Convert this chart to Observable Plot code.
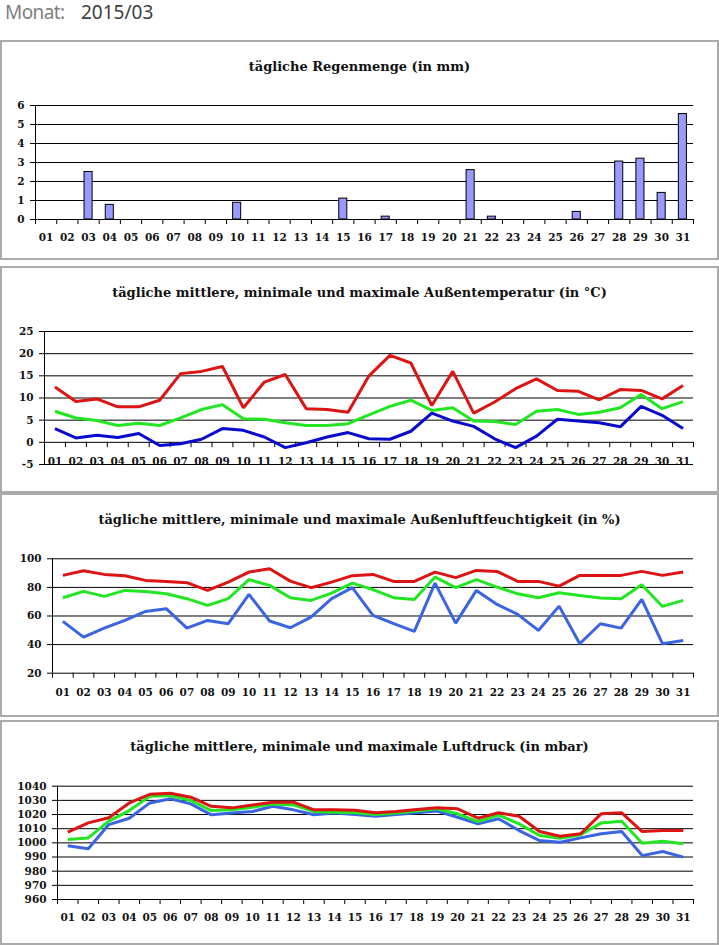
<!DOCTYPE html>
<html><head><meta charset="utf-8">
<script src="https://cdn.jsdelivr.net/npm/d3@7"></script>
<script src="https://cdn.jsdelivr.net/npm/@observablehq/plot@0.6"></script>
<style>
body{margin:0;background:#fff;width:719px;height:945px;position:relative;overflow:hidden}
.hdr{position:absolute;top:3px;font-family:"Noto Sans",sans-serif;font-size:19px;line-height:19px;white-space:nowrap}
.box{position:absolute;left:0;width:719px;box-sizing:border-box;border:2px solid #ababab}
.title{position:absolute;left:0;width:719px;text-align:center;font-family:"DejaVu Serif",serif;font-weight:bold;font-size:13px;line-height:13px;color:#111;white-space:nowrap}
.chart{position:absolute;left:0}
</style></head>
<body>
<div class="hdr" style="left:5px;color:#7f7f7f;letter-spacing:-0.6px">Monat:</div>
<div class="hdr" style="left:81px;color:#404040">2015/03</div>
<div id="root"></div>
<script>
// ---- data ----
const days = ["01","02","03","04","05","06","07","08","09","10","11","12","13","14","15","16","17","18","19","20","21","22","23","24","25","26","27","28","29","30","31"];
const rain = [0,0,2.5,0.77,0,0,0,0,0,0.88,0,0,0,0,1.1,0,0.15,0,0,0,2.6,0.15,0,0,0,0.4,0,3.05,3.2,1.4,5.55];
const tempMax  = [12.5,9.2,9.8,8.0,8.0,9.5,15.5,16.0,17.1,7.8,13.6,15.3,7.6,7.4,6.8,15.0,19.6,17.9,8.3,16.0,6.6,9.1,12.1,14.3,11.7,11.5,9.6,11.9,11.7,9.8,12.8];
const tempMean = [7.0,5.5,4.9,3.8,4.3,3.8,5.5,7.4,8.5,5.3,5.2,4.4,3.8,3.8,4.2,6.2,8.1,9.5,7.2,7.8,4.8,4.7,4.0,7.0,7.4,6.3,6.8,7.8,10.8,7.6,9.2];
const tempMin  = [3.1,1.0,1.6,1.1,2.0,-0.7,-0.3,0.7,3.1,2.7,1.2,-1.2,-0.1,1.2,2.2,0.8,0.7,2.5,6.6,4.8,3.6,0.8,-1.2,1.4,5.2,4.8,4.4,3.5,8.1,6.1,3.1];
const humMax  = [88.4,91.7,89.1,88.2,84.9,84.2,83.3,77.9,83.7,90.7,93.1,84.4,79.8,83.7,88.2,89.1,84.2,84.2,90.7,86.8,91.9,91.2,84.2,84.2,80.9,88.4,88.4,88.4,91.2,88.4,90.7];
const humMean = [72.8,77.2,73.7,77.9,77.2,75.5,72.1,67.4,72.1,85.4,81.4,72.8,70.9,76.0,83.0,78.4,72.8,71.6,87.2,79.8,85.4,80.2,75.5,72.8,76.3,74.4,72.6,72.1,81.9,66.7,70.9];
const humMin  = [56.2,45.2,51.5,56.9,63.2,65.1,51.5,56.9,54.6,75.1,56.5,51.8,59.2,72.1,79.8,60.4,54.6,49.2,83.0,55.0,77.9,68.1,61.1,49.9,66.9,40.6,54.6,51.5,71.6,40.6,42.9];
const presMax  = [1007.5,1014.1,1017.7,1028.2,1034.3,1035,1032.2,1025.8,1024.7,1026.8,1028.7,1028.7,1023.3,1023.3,1023,1021.2,1022.1,1023.5,1024.7,1024,1017.4,1021.2,1018.8,1008,1004.7,1006.4,1020.5,1021.2,1008,1008.7,1008.7];
const presMean = [1002.3,1003.5,1015.3,1022.8,1032.9,1033.4,1029.9,1022.8,1023.3,1025.1,1027.5,1026.8,1022.1,1021.6,1021.2,1020,1021,1022.4,1024,1020.5,1015,1019.6,1013.4,1005.2,1003.3,1005.7,1014.1,1015.3,999.7,1001.1,999.3];
const presMin  = [997.9,995.8,1012.9,1017.4,1028.2,1031.1,1027.5,1019.8,1021,1022.1,1025.8,1023.3,1019.8,1021,1020,1018.8,1020,1021.2,1022.4,1018.1,1013.4,1017,1008.7,1001.6,1000.4,1003.5,1006.4,1008,991,993.9,989.9];
const rainTicks = [0,1,2,3,4,5,6];
const tempTicks = [-5,0,5,10,15,20,25];
const humTicks = [20,40,60,80,100];
const presTicks = [960,970,980,990,1000,1010,1020,1030,1040];
const titles = [
  "tägliche Regenmenge (in mm)",
  "tägliche mittlere, minimale und maximale Außentemperatur (in °C)",
  "tägliche mittlere, minimale und maximale Außenluftfeuchtigkeit (in %)",
  "tägliche mittlere, minimale und maximale Luftdruck (in mbar)"
];
const colMax = "#dc1414", colMean = "#22e622", colMinDark = "#0a0acc", colMin = "#3a64e2";

// ---- helpers ----
const pos = days.map((d, i) => i + 1);
const bounds = [0.5, ...pos.map(p => p + 0.5)];

function addBox(top, height) {
  const b = document.createElement("div");
  b.className = "box"; b.style.top = top + "px"; b.style.height = height + "px";
  document.body.appendChild(b);
}
function addTitle(text, top) {
  const t = document.createElement("div");
  t.className = "title"; t.style.top = top + "px"; t.textContent = text;
  document.body.appendChild(t);
}
function lines(series) {
  return series.map(([vals, color]) =>
    Plot.lineY(vals, {x: (d, i) => i + 1, y: d => d, stroke: color, strokeWidth: 3, strokeLinejoin: "miter", strokeLinecap: "butt"}));
}
function panel({top, ml, mt, ph, mb, yDomain, yTicks, marks, xLabelPad, xAxisMode}) {
  const xm = [];
  if (xAxisMode === "bottom") {
    xm.push(Plot.axisX({ticks: bounds, tickSize: 5, tickFormat: () => "", stroke: "#000"}));
    xm.push(Plot.axisX({ticks: pos, tickSize: 0, tickPadding: xLabelPad, tickFormat: d => days[d - 1], fill: "#111"}));
  }
  const svg = Plot.plot({
    width: 719, height: mt + ph + mb,
    marginLeft: ml, marginRight: 26, marginTop: mt, marginBottom: mb,
    style: {fontFamily: "'DejaVu Serif', serif", fontWeight: "bold", fontSize: "10.5px", color: "#111", background: "transparent", overflow: "visible"},
    x: {domain: [0.5, 31.5], axis: xAxisMode === "bottom" ? undefined : null},
    y: {domain: yDomain},
    marks: [
      Plot.ruleY(yTicks, {stroke: "#000", strokeWidth: 1}),
      Plot.ruleX([0.5], {stroke: "#000", strokeWidth: 1}),
      Plot.axisY({ticks: yTicks, tickSize: 5, tickPadding: 6, tickFormat: d => String(d), stroke: "#000", fill: "#111"}),
      ...xm,
      ...marks
    ]
  });
  svg.classList.add("chart");
  svg.style.top = top + "px";
  svg.style.position = "absolute";
  document.body.appendChild(svg);
}

// ---- panel 1: rain ----
addBox(40, 220);
addTitle(titles[0], 60);
panel({
  top: 41, ml: 35, mt: 64, ph: 114, mb: 40,
  yDomain: [0, 6], yTicks: rainTicks, xLabelPad: 14, xAxisMode: "bottom",
  marks: [
    Plot.rect(rain.map((v, i) => ({v, i})).filter(d => d.v > 0), {
      x1: d => d.i + 1 - 0.19, x2: d => d.i + 1 + 0.19, y1: 0, y2: d => d.v,
      fill: "#9999ff", stroke: "#000", strokeWidth: 1
    })
  ]
});

// ---- panel 2: temperature ----
addBox(266, 227);
addTitle(titles[1], 286);
panel({
  top: 267, ml: 44, mt: 64, ph: 133, mb: 20,
  yDomain: [-5, 25], yTicks: tempTicks, xAxisMode: "zero",
  marks: [
    Plot.ruleX(bounds, {x: d => d, y1: 0, y2: -1.2, stroke: "#000", strokeWidth: 1}),
    Plot.text(pos, {x: d => d, y: -5, text: d => days[d - 1], dy: -3, fill: "#111"}),
    ...lines([[tempMin, colMinDark], [tempMean, colMean], [tempMax, colMax]])
  ]
});

// ---- panel 3: humidity ----
addBox(493, 224);
addTitle(titles[2], 513);
panel({
  top: 494, ml: 52, mt: 64.3, ph: 114.4, mb: 40,
  yDomain: [20, 100], yTicks: humTicks, xLabelPad: 15, xAxisMode: "bottom",
  marks: lines([[humMin, colMin], [humMean, colMean], [humMax, colMax]])
});

// ---- panel 4: pressure ----
addBox(720, 225);
addTitle(titles[3], 740);
panel({
  top: 721, ml: 57, mt: 64.7, ph: 113.3, mb: 40,
  yDomain: [960, 1040], yTicks: presTicks, xLabelPad: 14, xAxisMode: "bottom",
  marks: lines([[presMin, colMin], [presMean, colMean], [presMax, colMax]])
});
</script>
</body></html>
